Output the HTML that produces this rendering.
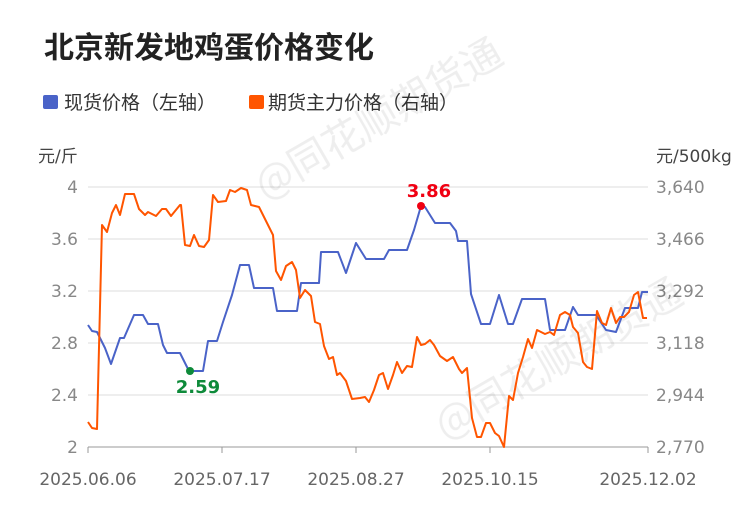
<!DOCTYPE html><html><head><meta charset="utf-8"><style>body{margin:0;background:#fff}</style></head><body>
<svg width="750" height="510" viewBox="0 0 750 510" font-family="'DejaVu Sans','Noto Sans CJK SC',sans-serif">
<text x="44" y="58" font-size="30" font-weight="bold" fill="#222" font-family="'Noto Sans CJK SC',sans-serif">北京新发地鸡蛋价格变化</text>
<rect x="43" y="95" width="15" height="14" rx="2" fill="#4a63c8"/>
<text x="64" y="109" font-size="19" fill="#333" font-family="'Noto Sans CJK SC',sans-serif">现货价格（左轴）</text>
<rect x="249" y="95" width="15" height="14" rx="2" fill="#ff5500"/>
<text x="268" y="109" font-size="19" fill="#333" font-family="'Noto Sans CJK SC',sans-serif">期货主力价格（右轴）</text>
<text x="38" y="162" font-size="17" fill="#444">元/斤</text>
<text x="656" y="162" font-size="17" fill="#444">元/500kg</text>
<g stroke="#ddd" stroke-width="1">
<line x1="88" x2="648" y1="187" y2="187"/><line x1="88" x2="648" y1="239" y2="239"/><line x1="88" x2="648" y1="291" y2="291"/><line x1="88" x2="648" y1="343" y2="343"/><line x1="88" x2="648" y1="395" y2="395"/></g>
<line x1="88" x2="648" y1="447" y2="447" stroke="#999"/>
<g stroke="#999"><line x1="88" x2="88" y1="447" y2="453"/><line x1="222" x2="222" y1="447" y2="453"/><line x1="356" x2="356" y1="447" y2="453"/><line x1="490" x2="490" y1="447" y2="453"/><line x1="648" x2="648" y1="447" y2="453"/></g>
<g font-size="17" fill="#888" text-anchor="end">
<text x="78" y="193">4</text><text x="78" y="245">3.6</text><text x="78" y="297">3.2</text><text x="78" y="349">2.8</text><text x="78" y="401">2.4</text><text x="78" y="453">2</text></g>
<g font-size="17" fill="#888">
<text x="656" y="193">3,640</text><text x="656" y="245">3,466</text><text x="656" y="297">3,292</text><text x="656" y="349">3,118</text><text x="656" y="401">2,944</text><text x="656" y="453">2,770</text></g>
<g font-size="17" fill="#666" text-anchor="middle">
<text x="88" y="485">2025.06.06</text><text x="222" y="485">2025.07.17</text><text x="356" y="485">2025.08.27</text><text x="490" y="485">2025.10.15</text><text x="648" y="485">2025.12.02</text></g>
<g fill="#000" opacity="0.07" font-size="40" font-family="'Noto Sans CJK SC',sans-serif">
<text transform="translate(265,200) rotate(-30)">@同花顺期货通</text>
<text transform="translate(445,440) rotate(-30)">@同花顺期货通</text></g>
<polyline fill="none" stroke="#4a63c8" stroke-width="2" stroke-linejoin="round" points="88,325 92,331 97,332 105,348 111,364 120,338 124,338 134,315 143,315 148,324 158,324 163,345 167,353 180,353 189,371 203,371 208,341 217,341 223,322 232,295 240,265 249,265 254,288 273,288 277,311 297,311 301,283 319,283 321,252 338,252 346,273 356,243 366,259 384,259 389,250 407,250 414,230 421,206 425,207 435,223 450,223 456,231 458,241 467,241 471,294 481,324 490,324 499,295 508,324 513,324 522,299 545,299 550,330 565,330 573,307 578,315 596,315 606,330 616,332 625,308 638,308 642,292 648,292"/>
<polyline fill="none" stroke="#ff5500" stroke-width="2" stroke-linejoin="round" points="88,422 92,428 97,429 102,225 107,232 112,213 116,205 120,215 125,194 134,194 139,209 145,215 148,212 156,216 162,209 166,209 171,216 180,205 181,205 185,245 190,246 194,235 199,246 204,247 209,240 213,195 218,202 226,201 230,190 235,192 241,188 247,190 251,205 259,207 273,235 276,271 281,280 286,266 292,262 296,270 300,298 305,290 311,296 315,322 320,324 324,346 329,359 333,357 337,375 340,373 346,381 352,399 360,398 365,397 369,402 374,390 379,375 383,373 388,389 393,375 397,362 402,373 407,366 412,367 417,337 421,345 425,344 430,340 434,345 440,356 447,361 453,357 459,369 462,373 467,368 472,418 477,437 481,437 486,423 490,423 495,433 499,436 504,447 509,396 513,400 518,373 523,357 528,339 532,348 537,330 545,334 550,332 554,335 560,315 565,312 570,315 573,327 578,333 583,362 587,367 592,369 597,311 602,323 606,325 611,308 616,323 620,317 624,317 629,312 634,295 638,292 643,318 647,318"/>
<circle cx="421" cy="206" r="4" fill="#f00012"/>
<text x="429" y="197" font-size="18" font-weight="bold" fill="#f00012" text-anchor="middle">3.86</text>
<circle cx="190" cy="371" r="4" fill="#0e8a3a"/>
<text x="198" y="393" font-size="18" font-weight="bold" fill="#0e8a3a" text-anchor="middle">2.59</text>
</svg></body></html>
